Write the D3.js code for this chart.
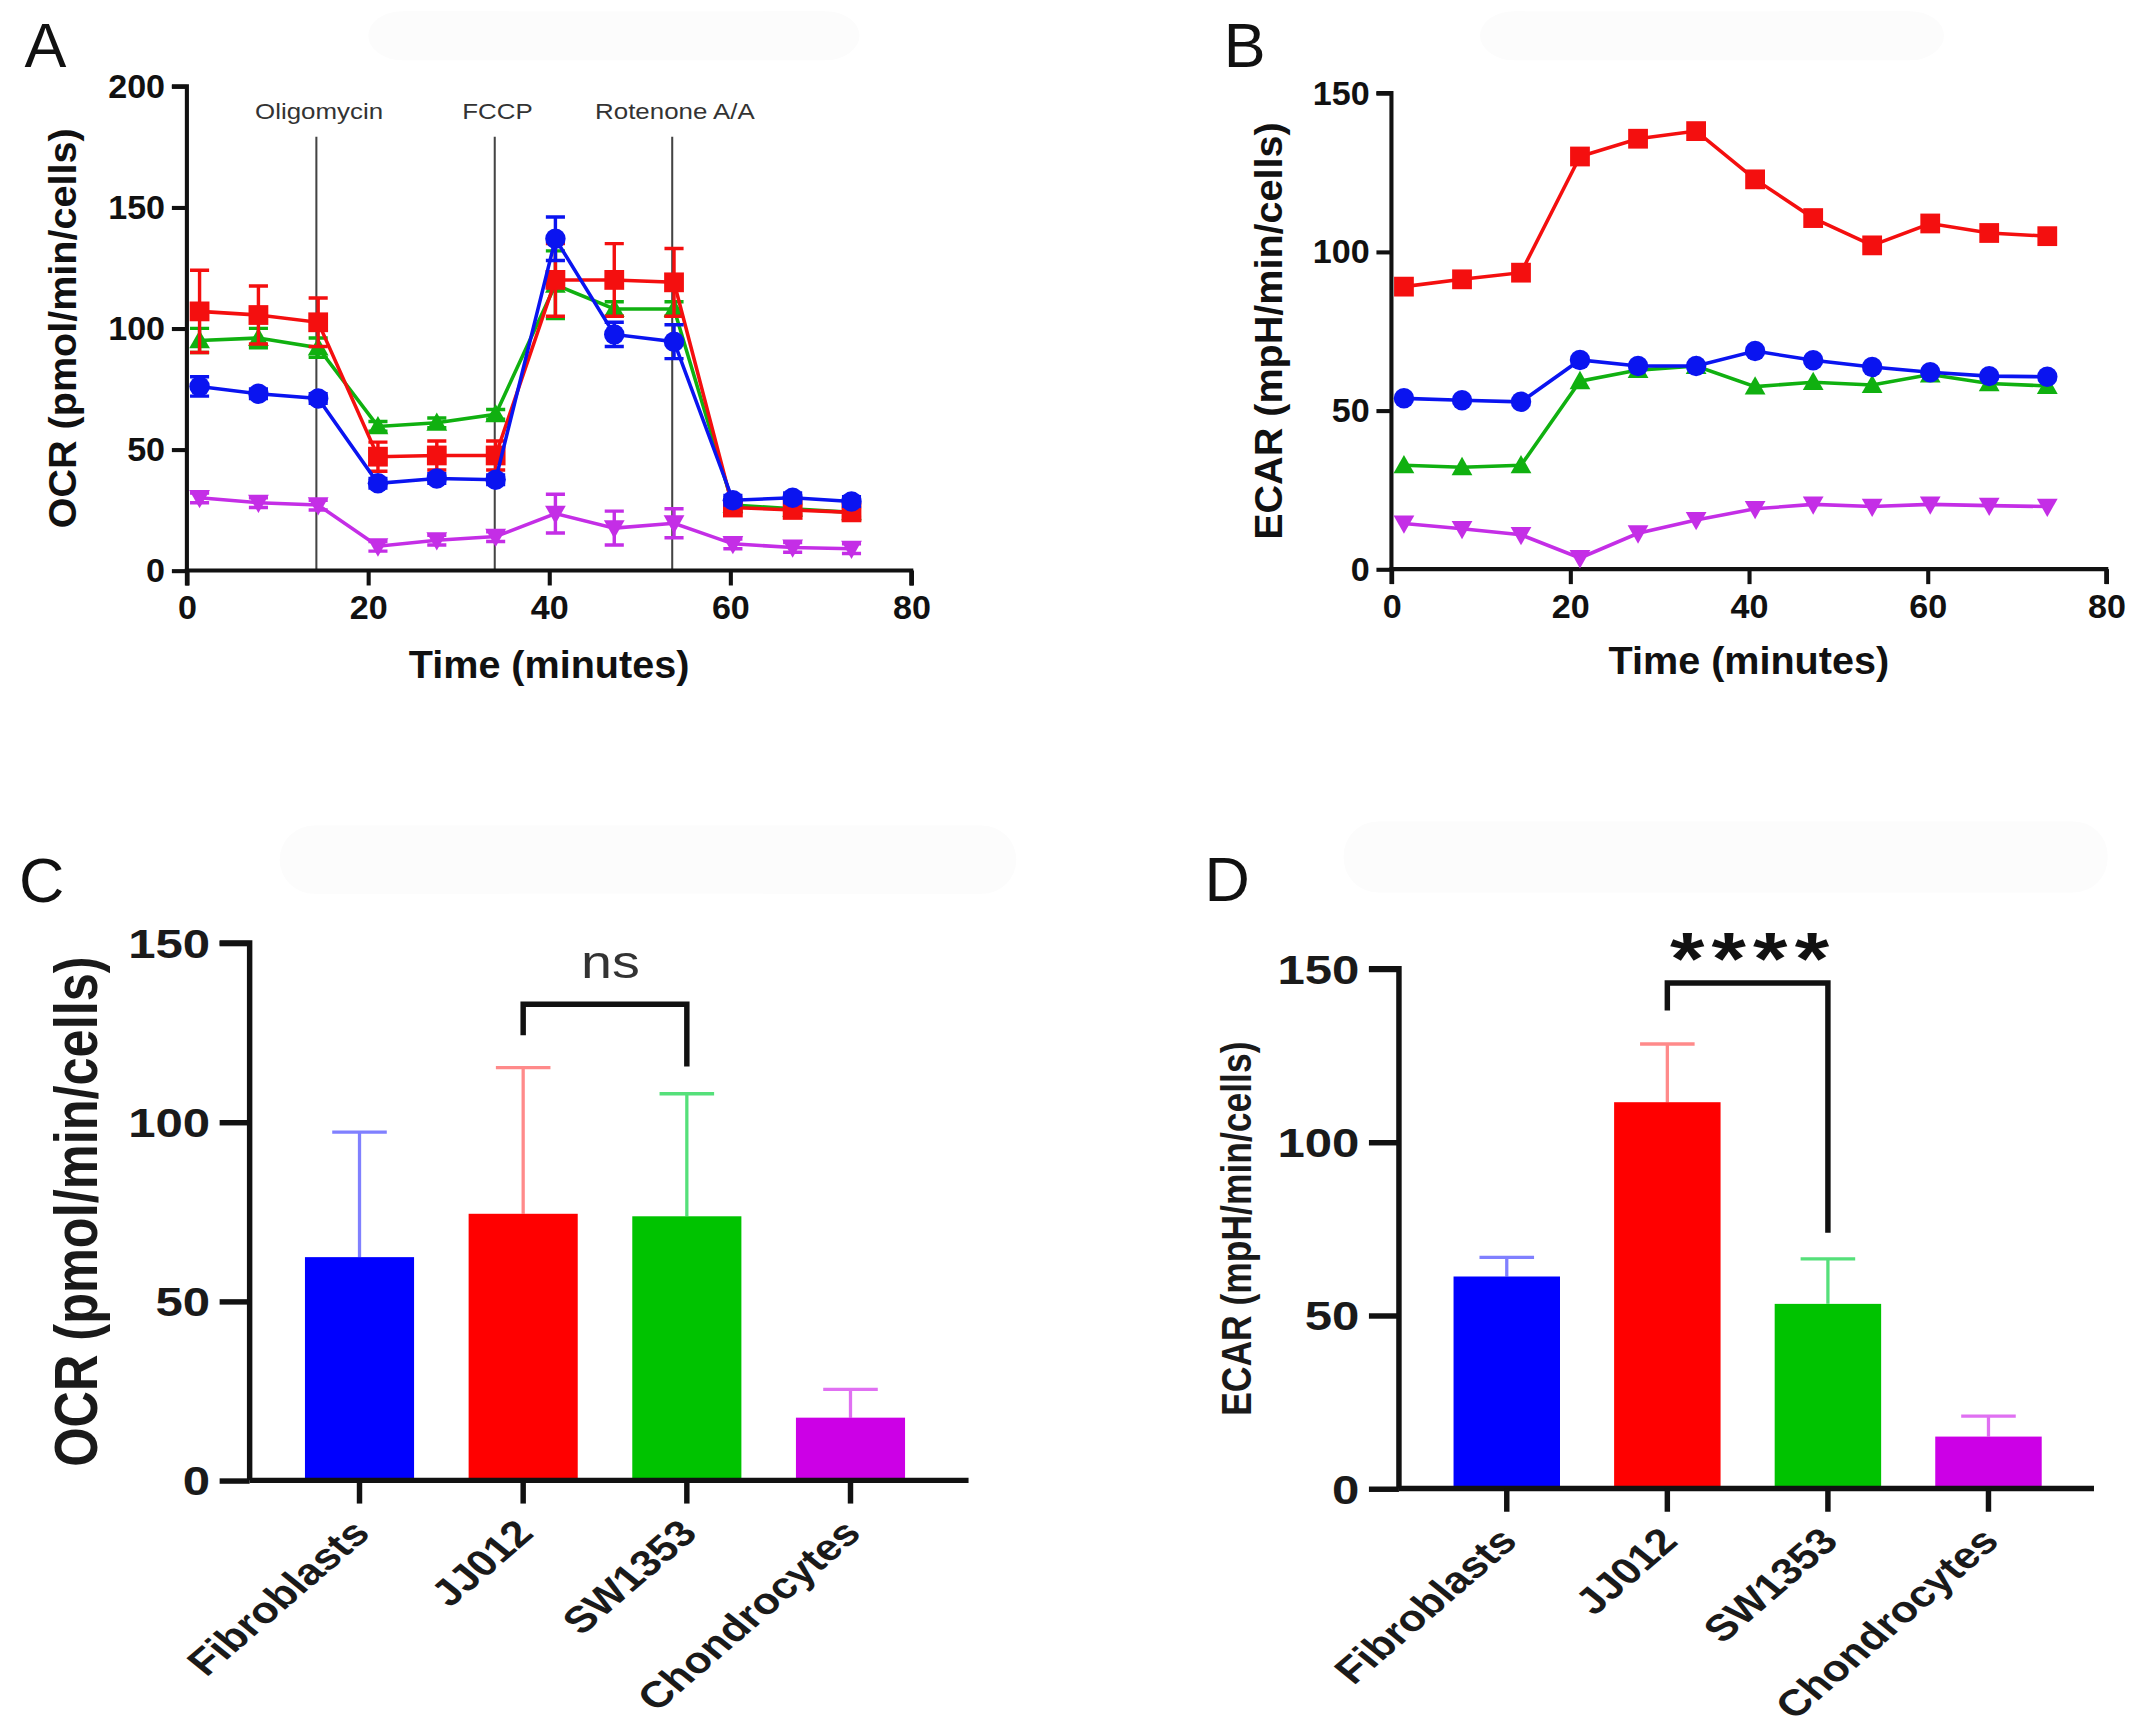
<!DOCTYPE html>
<html><head><meta charset="utf-8">
<script src="https://cdn.jsdelivr.net/npm/d3@7"></script>
<style>html,body{margin:0;padding:0;background:#fff;} svg{display:block;}</style>
</head><body>
<svg id="chart" width="2139" height="1733" viewBox="0 0 1568 1270"></svg>
<script>
// ---------- DATA ----------
const times = [1.4, 7.9, 14.5, 21.1, 27.6, 34.1, 40.7, 47.2, 53.8, 60.3, 66.9, 73.4];
const categories = ["Fibroblasts", "JJ012", "SW1353", "Chondrocytes"];
const injections = [14.3, 34.0, 53.6];
const injectionLabels = ["Oligomycin", "FCCP", "Rotenone A/A"];

// Panel A: OCR time course (mean, error)
const ocrFibroblasts    = [76, 73, 71, 36, 38, 37.5, 137, 97.5, 94.5, 29, 30, 28.5];
const ocrFibroblastsErr = [4, 2, 2, 2, 2, 2, 9, 5, 7, 2, 2, 2];
const ocrJJ012          = [107, 105.5, 102.5, 47, 47.5, 47.5, 120, 120, 119, 26, 25, 24];
const ocrJJ012Err       = [17, 12, 10, 6, 6, 6, 15, 15, 14, 2, 2, 2];
const ocrSW1353         = [95, 96, 92, 59.5, 61, 64.5, 118, 108, 108, 27, 25.5, 24];
const ocrSW1353Err      = [5, 4, 4, 2, 2, 2, 14, 3, 3, 2, 2, 2];
const ocrChondro        = [30, 28, 27, 10, 12.5, 14, 23.5, 17.5, 19.5, 11, 9.5, 9];
const ocrChondroErr     = [2, 2, 2, 2, 2, 2, 8, 7, 6, 2, 2, 2];

// Panel B: ECAR time course
const ecarFibroblasts = [53.8, 53.2, 52.7, 65.9, 64, 64, 68.7, 65.8, 63.7, 62, 60.8, 60.6];
const ecarJJ012       = [89, 91.3, 93.4, 130, 135.6, 138, 122.8, 110.6, 102, 108.9, 105.9, 104.9];
const ecarSW1353      = [32.7, 32.1, 32.7, 59.2, 62.7, 64, 57.5, 58.9, 58, 61.3, 58.5, 57.7];
const ecarChondro     = [14.4, 12.7, 10.8, 3.5, 11.3, 15.5, 19, 20.4, 19.7, 20.4, 20, 19.7];

// Panel C / D: bar means and SD
const ocrMeans  = [62.3, 74.4, 73.7, 17.5];
const ocrSD     = [34.9, 40.8, 34.2, 7.9];
const ecarMeans = [61.2, 111.5, 53.3, 15];
const ecarSD    = [5.5, 16.8, 13, 5.9];

const ticksA = [0, 50, 100, 150, 200];
const ticksB = [0, 50, 100, 150];
const ticksX = [0, 20, 40, 60, 80];
const ticksBar = [0, 50, 100, 150];

// ---------- STYLE ----------
const lineColors = {Fibroblasts: "#0a14f0", JJ012: "#f40f0f", SW1353: "#10b010", Chondrocytes: "#c42ee6"};
const barColors  = {Fibroblasts: "#0000ff", JJ012: "#ff0000", SW1353: "#00c300", Chondrocytes: "#cc00e6"};
const errColors  = {Fibroblasts: "#8080ff", JJ012: "#ff8a8a", SW1353: "#55e07a", Chondrocytes: "#e070f2"};
const markers    = {Fibroblasts: "circle", JJ012: "square", SW1353: "triangle", Chondrocytes: "down"};
const FONT = "'Liberation Sans', Arial, Helvetica, sans-serif";
const SX = 1.2; // horizontal stretch seen in the lower panels' text

const svg = d3.select("#chart");

// faint header artifacts
[[270,8,360,36],[1085,8,340,36],[205,605,540,50],[985,602,560,52]].forEach(r=>{
  svg.append("rect").attr("x",r[0]).attr("y",r[1]).attr("width",r[2]).attr("height",r[3])
    .attr("rx",25).attr("fill","#fcfcfc");
});

function panelLabel(t, x, y){
  svg.append("text").attr("x",x).attr("y",y).text(t)
    .attr("font-family",FONT).attr("font-size",46).attr("fill","#111");
}

function markerPath(type, size){
  const s = size/2;
  if(type==="square") return `M${-s},${-s}H${s}V${s}H${-s}Z`;
  if(type==="triangle") return `M0,${-s*1.05}L${s*1.05},${s*0.8}L${-s*1.05},${s*0.8}Z`;
  if(type==="down") return `M0,${s*1.05}L${s*1.05},${-s*0.8}L${-s*1.05},${-s*0.8}Z`;
  return d3.symbol(d3.symbolCircle, Math.PI*s*s)();
}

function timePanel(opts){
  const {x, y, yTicks, series, title, yTitleX, xTitleY} = opts;
  const g = svg.append("g");
  const yAxis = d3.axisLeft(y).tickValues(yTicks).tickSize(11).tickPadding(5).tickFormat(d3.format("d"));
  const xAxis = d3.axisBottom(x).tickValues(ticksX).tickSize(11).tickPadding(7).tickFormat(d3.format("d"));
  const ga = g.append("g").attr("transform",`translate(${x(0)},0)`).call(yAxis);
  const gb = g.append("g").attr("transform",`translate(0,${y(0)})`).call(xAxis);
  [ga,gb].forEach(a=>{
    a.select(".domain").attr("stroke","#111").attr("stroke-width",3);
    a.selectAll(".tick line").attr("stroke","#111").attr("stroke-width",3);
    a.selectAll(".tick text").attr("font-family",FONT).attr("font-size",25).attr("font-weight","bold").attr("fill","#111");
  });
  ga.select(".domain").attr("d",`M-11,${y(yTicks[yTicks.length-1])}H0V${y(0)}`);
  gb.select(".domain").attr("d",`M${x(0)},11V0H${x(80)}V11`);
  g.append("text").attr("transform",`translate(${yTitleX},${(y.range()[0]+y.range()[1])/2}) rotate(-90)`)
    .attr("text-anchor","middle").attr("font-family",FONT).attr("font-size",29).attr("font-weight","bold")
    .attr("fill","#111").text(title);
  g.append("text").attr("x",(x(0)+x(80))/2).attr("y",xTitleY).attr("text-anchor","middle")
    .attr("font-family",FONT).attr("font-size",29).attr("font-weight","bold").attr("fill","#111").text("Time (minutes)");
  const line = d3.line().x((d,i)=>x(times[i])).y(d=>y(d));
  series.forEach(s=>{
    const col = lineColors[s.name];
    const sg = g.append("g");
    if(s.err){
      s.values.forEach((v,i)=>{
        const e = s.err[i], cx = x(times[i]);
        sg.append("path").attr("d",`M${cx},${y(v-e)}V${y(v+e)}M${cx-7},${y(v+e)}H${cx+7}M${cx-7},${y(v-e)}H${cx+7}`)
          .attr("stroke",col).attr("stroke-width",2.5).attr("fill","none");
      });
    }
    sg.append("path").datum(s.values).attr("d",line).attr("fill","none").attr("stroke",col).attr("stroke-width",2.6);
    sg.selectAll(".m").data(s.values).join("path")
      .attr("transform",(d,i)=>`translate(${x(times[i])},${y(d)})`)
      .attr("d",markerPath(markers[s.name], s.name==="Fibroblasts"?15:14.5)).attr("fill",col);
  });
  return g;
}

// ---------- PANEL A ----------
panelLabel("A", 18, 49);
const xA = d3.scaleLinear().domain([0,80]).range([137,668]);
const yA = d3.scaleLinear().domain([0,200]).range([418,63]);
injections.forEach((t,i)=>{
  svg.append("line").attr("x1",xA(t)).attr("x2",xA(t)).attr("y1",100).attr("y2",yA(0))
    .attr("stroke","#444").attr("stroke-width",1.5);
  svg.append("text").attr("transform",`translate(${xA(t)+2},87) scale(1.15,1)`).attr("text-anchor","middle")
    .attr("font-family",FONT).attr("font-size",16.5).attr("fill","#333").text(injectionLabels[i]);
});
timePanel({x:xA, y:yA, yTicks:ticksA, title:"OCR (pmol/min/cells)", yTitleX:56, xTitleY:497,
  series:[
    {name:"SW1353", values:ocrSW1353, err:ocrSW1353Err},
    {name:"JJ012", values:ocrJJ012, err:ocrJJ012Err},
    {name:"Fibroblasts", values:ocrFibroblasts, err:ocrFibroblastsErr},
    {name:"Chondrocytes", values:ocrChondro, err:ocrChondroErr}
  ]});

// ---------- PANEL B ----------
panelLabel("B", 897, 49);
const xB = d3.scaleLinear().domain([0,80]).range([1020,1544]);
const yB = d3.scaleLinear().domain([0,150]).range([417,68]);
timePanel({x:xB, y:yB, yTicks:ticksB, title:"ECAR (mpH/min/cells)", yTitleX:940, xTitleY:494,
  series:[
    {name:"SW1353", values:ecarSW1353},
    {name:"Chondrocytes", values:ecarChondro},
    {name:"Fibroblasts", values:ecarFibroblasts},
    {name:"JJ012", values:ecarJJ012}
  ]});

// ---------- BAR PANELS ----------
function stretchedText(g, x, y, txt, size, anchor, weight, rot){
  return g.append("text").attr("transform",`translate(${x},${y}) scale(${SX},1)` + (rot?` rotate(${rot})`:""))
    .attr("text-anchor",anchor).attr("font-family",FONT).attr("font-size",size).attr("font-weight",weight)
    .attr("fill","#1a1a1a").text(txt);
}

function barPanel(opts){
  const {x, y, means, sds, title, titleX, titleSize, axisEnd, bracket, sig, sigSize, sigY, sigWeight, sigColor, sigSpacing} = opts;
  const g = svg.append("g");
  const x0 = x.range()[0];
  const yAxis = d3.axisLeft(y).tickValues(ticksBar).tickSize(22).tickFormat("");
  const ga = g.append("g").attr("transform",`translate(${x0},0)`).call(yAxis);
  ga.select(".domain").attr("d",`M-22,${y(150)}H0V${y(0)}`).attr("stroke","#111").attr("stroke-width",4);
  ga.selectAll(".tick line").attr("stroke","#111").attr("stroke-width",4);
  ticksBar.forEach(t=>{
    stretchedText(g, x0-29, y(t)+11, d3.format("d")(t), 30, "end", "bold");
  });
  categories.forEach((c,i)=>{
    const bx = x(c), bw = x.bandwidth(), cx = bx + bw/2;
    g.append("path").attr("d",`M${cx},${y(means[i])}V${y(means[i]+sds[i])}M${cx-20},${y(means[i]+sds[i])}H${cx+20}`)
      .attr("stroke",errColors[c]).attr("stroke-width",2.4).attr("fill","none");
    g.append("rect").attr("x",bx).attr("width",bw).attr("y",y(means[i])).attr("height",y(0)-y(means[i]))
      .attr("fill",barColors[c]);
  });
  const xAxis = d3.axisBottom(x).tickSize(17).tickFormat("");
  const gb = g.append("g").attr("transform",`translate(0,${y(0)})`).call(xAxis);
  gb.select(".domain").attr("d",`M${x0},0H${axisEnd}`).attr("stroke","#111").attr("stroke-width",4);
  gb.selectAll(".tick line").attr("stroke","#111").attr("stroke-width",4);
  categories.forEach(c=>{
    const cx = x(c)+x.bandwidth()/2;
    stretchedText(g, cx+9, y(0)+40, c, 27, "end", "bold", -46);
  });
  g.append("text").attr("transform",`translate(${titleX},${(y(0)+y(150))/2}) scale(${SX},1) rotate(-90)`)
    .attr("text-anchor","middle").attr("font-family",FONT).attr("font-size",titleSize).attr("font-weight","bold")
    .attr("fill","#1a1a1a").text(title);
  const [c1,c2,top,l1,l2] = bracket;
  const x1 = x(c1)+x.bandwidth()/2, x2 = x(c2)+x.bandwidth()/2;
  g.append("path").attr("d",`M${x1},${y(l1)}V${y(top)}H${x2}V${y(l2)}`)
    .attr("fill","none").attr("stroke","#111").attr("stroke-width",4);
  g.append("text").attr("transform",`translate(${(x1+x2)/2+4},${sigY}) scale(${SX},1)`).attr("text-anchor","middle")
    .attr("font-family",FONT).attr("font-size",sigSize).attr("font-weight",sigWeight).attr("fill",sigColor)
    .attr("letter-spacing",sigSpacing).text(sig);
}

panelLabel("C", 14, 661);
const xC = d3.scaleBand().domain(categories).range([183,704]).paddingInner(1/3).paddingOuter(0.338);
const yC = d3.scaleLinear().domain([0,150]).range([1085,691]);
barPanel({x:xC, y:yC, means:ocrMeans, sds:ocrSD, title:"OCR (pmol/min/cells)", titleX:71, titleSize:37,
  axisEnd:710, bracket:["JJ012","SW1353",132.9,124.2,115.5], sig:"ns", sigSize:34, sigY:717, sigWeight:"normal", sigColor:"#333", sigSpacing:0});

panelLabel("D", 883, 660);
const xD = d3.scaleBand().domain(categories).range([1025.5,1536.7]).paddingInner(0.337).paddingOuter(0.34);
const yD = d3.scaleLinear().domain([0,150]).range([1091,710]);
barPanel({x:xD, y:yD, means:ecarMeans, sds:ecarSD, title:"ECAR (mpH/min/cells)", titleX:917, titleSize:26,
  axisEnd:1535, bracket:["JJ012","SW1353",145.9,138,73.8], sig:"****", sigSize:54, sigY:721, sigWeight:"bold", sigColor:"#111", sigSpacing:4.4});
</script>
</body></html>
